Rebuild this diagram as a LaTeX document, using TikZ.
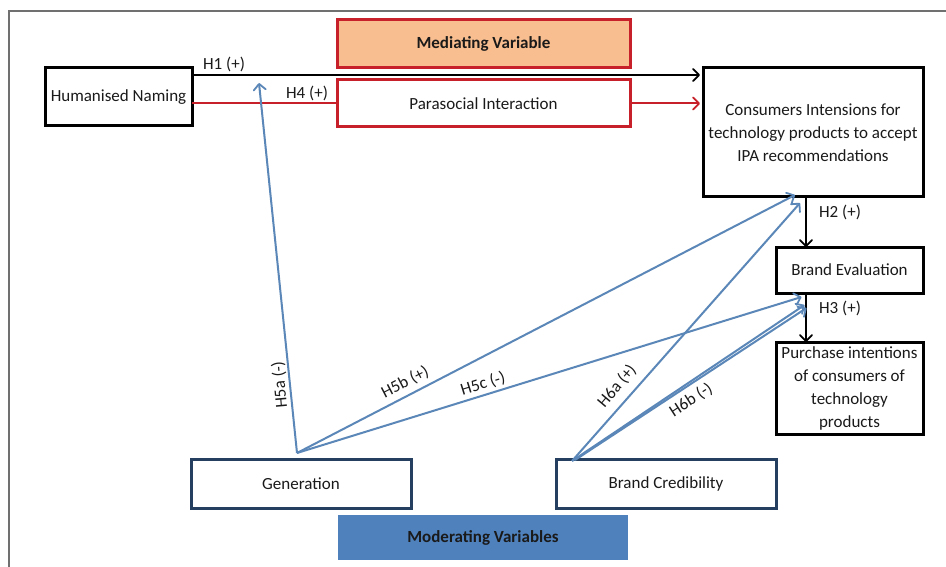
\documentclass[tikz,border=0pt]{standalone}
\usepackage{fontspec}
\setmainfont{Carlito}
\usetikzlibrary{arrows.meta,calc}
\definecolor{boxred}{HTML}{C8202A}
\definecolor{medfill}{HTML}{F9BE8F}
\definecolor{bluearr}{HTML}{5B87B8}
\definecolor{navy}{HTML}{243F60}
\definecolor{modfill}{HTML}{4F81BD}
\definecolor{txt}{HTML}{1A1A1A}
\definecolor{frame}{HTML}{707070}
\tikzset{
  every node/.style={font=\fontsize{17}{23}\selectfont, text=txt, outer sep=0pt, inner sep=0pt},
  blackbox/.style={draw=black, line width=3pt, align=center},
  redbox/.style={draw=boxred, line width=3pt, align=center},
  navybox/.style={draw=navy, line width=3pt, align=center},
  tip/.style={-{Straight Barb[length=6pt,width=12pt,line width=1.8pt,round]}},
  blk/.style={draw=black, line width=1.8pt},
  redln/.style={draw=boxred, line width=2pt},
  blu/.style={draw=bluearr, line width=2pt},
  lab/.style={font=\fontsize{17}{20}\selectfont},
}
\begin{document}
\begin{tikzpicture}[x=1pt,y=-1pt]
\useasboundingbox (0,0) rectangle (946,567);
\fill[white] (0,0) rectangle (946,567);
% outer frame
\draw[frame, line width=1.5pt] (9,567) -- (9,11) -- (946,11);

% nodes
\node[blackbox, minimum width=147, minimum height=58] (hn) at (118.5,97) {Humanised Naming};
\node[redbox, fill=medfill, minimum width=293, minimum height=48, font=\fontsize{17}{23}\selectfont\bfseries] (med) at (483.5,44) {Mediating Variable};
\node[redbox, minimum width=293, minimum height=47] (psi) at (483.5,103.5) {Parasocial Interaction};
\node[blackbox, minimum width=220, minimum height=129] (ci) at (813,132.5) {Consumers Intensions for\\technology products to accept\\IPA recommendations};
\node[blackbox, minimum width=147, minimum height=46] (be) at (849.5,270) {Brand Evaluation};
\node[blackbox, minimum width=147, minimum height=92] (pi) at (849.5,388) {Purchase intentions\\of consumers of\\technology\\products};
\node[navybox, minimum width=220, minimum height=49] (gen) at (301,483.5) {Generation};
\node[navybox, minimum width=220, minimum height=49] (bc) at (666,483.5) {Brand Credibility};
\node[fill=modfill, minimum width=290, minimum height=45, font=\fontsize{17}{23}\selectfont\bfseries] (mod) at (483,537.5) {Moderating Variables};

% H1 and H4
\draw[blk, tip] (hn.east |- 0,75) -- ($(ci.west |- 0,75)+(-3,0)$);
\node[lab] (h1) at (224,64) {H1 (+)};
\draw[redln] (hn.east |- psi.west) -- (psi.west);
\draw[redln, tip] (psi.east) -- ($(ci.west |- psi.east)+(-3,0)$);
\node[lab] (h4) at (307,93) {H4 (+)};

% H2, H3
\draw[blk, tip] (ci.south -| 806,0) -- (be.north -| 806,0);
\node[lab] (h2) at (840,212) {H2 (+)};
\draw[blk, tip] (be.south -| 806,0) -- (pi.north -| 806,0);
\node[lab] (h3) at (840,308) {H3 (+)};

% moderating arrows
\coordinate (gs) at ($(gen.north)+(-4,-6)$);
\coordinate (bs) at ($(bc.north west)+(16,2)$);
\coordinate (h5aend) at (259,83);
\draw[blu, tip] (gs) -- (h5aend);
\draw[blu, tip] (gs) -- ($(ci.south)+(-18,-2)$);
\draw[blu, tip] (gs) -- ($(be.south)+(-48,4)$);
\draw[blu, tip] (bs) -- ($(ci.south)+(-13,6)$);
\draw[blu, tip] (bs) -- ($(be.south)+(-45,12)$);
\draw[blu, tip] ($(bs)+(3,-1)$) -- ($(be.south)+(-43,15)$);

\node[lab, rotate=95] (h5a) at (280,385) {H5a (-)};
\node[lab, rotate=27.3] (h5b) at (405,382) {H5b (+)};
\node[lab, rotate=17.3] (h5c) at (483,384) {H5c (-)};
\node[lab, rotate=49.7] (h6a) at (617,386) {H6a (+)};
\node[lab, rotate=33] (h6b) at (691,400) {H6b (-)};
\end{tikzpicture}
\end{document}
